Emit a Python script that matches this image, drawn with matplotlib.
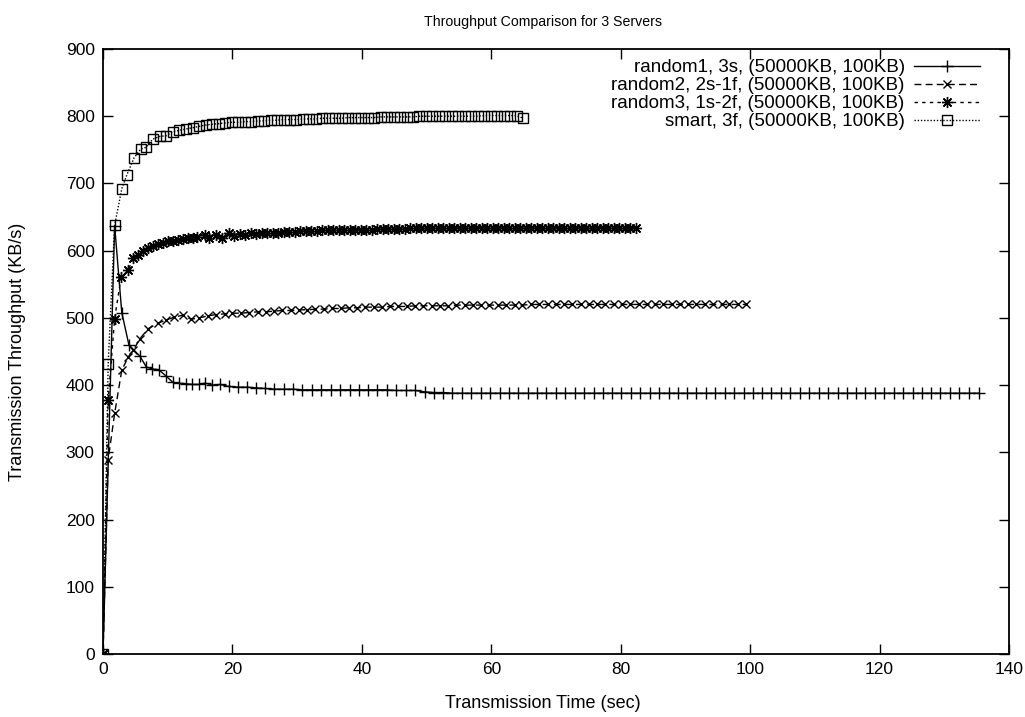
import matplotlib
matplotlib.use('Agg')
import matplotlib.pyplot as plt

plt.rcParams['font.family'] = ['Liberation Sans', 'DejaVu Sans']

# random1, 3s
time_r1 = [0, 1.8, 2.9, 4.0, 5.7, 6.7, 7.6, 8.6, 9.8, 10.8,
           11.8, 12.8, 13.8, 14.8, 15.8, 16.9, 18.1, 19.4, 20.8, 22.2,
           23.6, 25.0, 26.5, 27.9, 29.4, 30.8, 32.3, 33.7, 35.2, 36.6,
           38.1, 39.5, 41.0, 42.4, 43.9, 45.3, 46.8, 48.2, 49.7, 51.1,
           52.6, 54.0, 55.5, 56.9, 58.4, 59.8, 61.3, 62.7, 64.2, 65.6,
           67.1, 68.5, 70.0, 71.4, 72.9, 74.3, 75.8, 77.2, 78.7, 80.1,
           81.6, 83.0, 84.5, 85.9, 87.4, 88.8, 90.3, 91.7, 93.2, 94.6,
           96.1, 97.5, 99.0, 100.4, 101.9, 103.3, 104.8, 106.2, 107.7, 109.1,
           110.6, 112.0, 113.5, 114.9, 116.4, 117.8, 119.3, 120.7, 122.2, 123.6,
           125.1, 126.5, 128.0, 129.4, 130.9, 132.3, 133.8, 135.3]
thru_r1 = [0, 637, 508, 460, 443, 427, 424, 423, 413, 404,
           403, 402, 401, 401, 403, 400, 401, 398, 397, 397,
           396, 395, 394, 394, 394, 393, 393, 393, 393, 393,
           393, 393, 393, 393, 393, 392, 392, 392, 390, 389,
           389, 388, 388, 388, 388, 388, 388, 388, 388, 388,
           388, 388, 388, 388, 388, 388, 388, 388, 388, 388,
           388, 388, 388, 388, 388, 388, 388, 388, 388, 388,
           388, 388, 388, 388, 388, 388, 388, 388, 388, 388,
           388, 388, 388, 388, 388, 388, 388, 388, 388, 388,
           388, 388, 388, 388, 388, 388, 388, 388]

# random2, 2s-1f
time_r2 = [0, 0.8, 1.8, 2.9, 3.9, 4.7, 5.7, 7.0, 8.5, 9.8,
           11.0, 12.3, 13.6, 14.9, 16.2, 17.5, 18.8, 20.0, 21.3, 22.6,
           23.9, 25.2, 26.4, 27.7, 29.0, 30.3, 31.6, 32.8, 34.1, 35.4,
           36.7, 38.0, 39.2, 40.5, 41.8, 43.1, 44.4, 45.6, 46.9, 48.2,
           49.5, 50.8, 52.0, 53.3, 54.6, 55.9, 57.2, 58.4, 59.7, 61.0,
           62.3, 63.6, 64.8, 66.1, 67.4, 68.7, 70.0, 71.2, 72.5, 73.8,
           75.1, 76.4, 77.6, 78.9, 80.2, 81.5, 82.8, 84.0, 85.3, 86.6,
           87.9, 89.2, 90.4, 91.7, 93.0, 94.3, 95.6, 96.8, 98.1, 99.4]
thru_r2 = [0, 289, 358, 422, 442, 452, 469, 484, 492, 497,
           501, 504, 498, 500, 503, 505, 506, 507, 507, 508,
           509, 509, 510, 511, 511, 512, 512, 513, 513, 514,
           514, 515, 515, 516, 516, 516, 517, 517, 517, 518,
           518, 518, 518, 518, 519, 519, 519, 519, 519, 519,
           519, 519, 519, 520, 520, 520, 520, 520, 520, 520,
           520, 520, 520, 520, 520, 520, 520, 520, 520, 520,
           520, 520, 520, 520, 520, 520, 520, 520, 520, 520]

# random3, 1s-2f
time_r3 = [0, 0.8, 1.8, 2.8, 3.9, 4.7, 5.4, 6.2, 7.0, 7.7,
           8.5, 9.3, 10.0, 10.8, 11.6, 12.3, 13.1, 13.9, 14.6, 15.7,
           16.4, 17.4, 18.4, 19.4, 20.3, 21.1, 22.0, 22.8, 23.7, 24.5,
           25.4, 26.2, 27.1, 27.9, 28.8, 29.6, 30.5, 31.3, 32.2, 33.0,
           33.9, 34.7, 35.6, 36.4, 37.3, 38.1, 39.0, 39.8, 40.7, 41.5,
           42.4, 43.2, 44.1, 44.9, 45.8, 46.6, 47.5, 48.3, 49.2, 50.0,
           50.9, 51.7, 52.6, 53.4, 54.3, 55.1, 56.0, 56.8, 57.7, 58.5,
           59.4, 60.2, 61.1, 61.9, 62.8, 63.6, 64.5, 65.3, 66.2, 67.0,
           67.9, 68.7, 69.6, 70.4, 71.3, 72.1, 73.0, 73.8, 74.7, 75.5,
           76.4, 77.2, 78.1, 78.9, 79.8, 80.6, 81.5, 82.3]
thru_r3 = [0, 378, 499, 561, 571, 589, 594, 599, 604, 607,
           610, 612, 614, 615, 616, 618, 619, 619, 621, 624,
           619, 624, 619, 626, 622, 625, 624, 626, 625, 627,
           626, 627, 627, 628, 628, 628, 629, 629, 629, 629,
           630, 630, 630, 630, 631, 631, 631, 631, 631, 631,
           632, 632, 632, 632, 632, 632, 633, 633, 633, 633,
           633, 633, 633, 633, 633, 634, 634, 634, 634, 634,
           634, 634, 634, 634, 634, 634, 634, 634, 634, 634,
           634, 634, 634, 634, 634, 634, 634, 634, 634, 634,
           634, 634, 634, 634, 634, 634, 634, 634]

# smart, 3f
time_sm = [0, 0.8, 1.8, 2.9, 3.7, 4.8, 5.8, 6.7, 7.7, 8.8,
           9.8, 10.8, 11.8, 12.8, 13.9, 14.9, 15.9, 16.9, 17.9, 18.9,
           19.9, 20.9, 21.9, 22.9, 23.9, 24.9, 25.9, 26.9, 27.9, 28.9,
           29.9, 30.9, 31.9, 32.9, 33.9, 34.9, 35.9, 36.9, 37.9, 38.9,
           39.9, 40.9, 41.9, 42.9, 43.9, 44.9, 45.9, 46.9, 47.9, 48.9,
           49.9, 50.9, 51.9, 52.9, 53.9, 54.9, 55.9, 56.9, 57.9, 58.9,
           59.9, 60.9, 61.9, 62.9, 63.9, 64.9]
thru_sm = [0, 432, 638, 692, 713, 738, 751, 754, 766, 770,
           771, 777, 779, 781, 783, 785, 787, 788, 789, 790,
           791, 791, 792, 792, 793, 793, 794, 794, 795, 795,
           795, 796, 796, 796, 797, 797, 797, 797, 798, 798,
           798, 798, 798, 799, 799, 799, 799, 799, 799, 800,
           800, 800, 800, 800, 800, 800, 800, 800, 800, 801,
           801, 801, 801, 801, 801, 797]

labels = ['random1, 3s, (50000KB, 100KB)',
          'random2, 2s-1f, (50000KB, 100KB)',
          'random3, 1s-2f, (50000KB, 100KB)',
          'smart, 3f, (50000KB, 100KB)']

fig = plt.figure(figsize=(10.25, 7.17), dpi=100)
# axes box from x=103..1009 px, y=49..654 px
ax = fig.add_axes([103 / 1025, 1 - 654 / 717, 906 / 1025, 605 / 717])

ax.plot(time_r1, thru_r1, color='black', lw=1, linestyle='-',
        marker='+', markersize=8, markeredgewidth=1, label=labels[0])
ax.plot(time_r2, thru_r2, color='black', lw=1, linestyle=(0, (5, 3)),
        marker='x', markersize=6, markeredgewidth=1, label=labels[1])
ax.plot(time_r3, thru_r3, color='black', lw=1, linestyle=(0, (2.5, 3)),
        marker=(8, 2, 0), markersize=8, markeredgewidth=1, label=labels[2])
ax.plot(time_sm, thru_sm, color='black', lw=1, linestyle=(0, (1, 1.3)),
        marker='s', markersize=6.5, markeredgewidth=1, fillstyle='none', label=labels[3])

ax.set_xlim(0, 140)
ax.set_ylim(0, 900)
ax.set_xticks(range(0, 141, 20))
ax.set_yticks(range(0, 901, 100))
ax.tick_params(direction='in', length=7, width=1, top=True, right=True, labelsize=12.5, pad=6)
for s in ax.spines.values():
    s.set_linewidth(1.3)

ax.set_xlabel('Transmission Time (sec)', fontsize=13)
ax.set_ylabel('Transmission Throughput (KB/s)', fontsize=13)
ax.xaxis.set_label_coords((543 - 103) / 906, -(704 - 654) / 605)
ax.yaxis.set_label_coords(-(103 - 18) / 906, 0.5)
ax.xaxis.label.set_va('center')
ax.yaxis.label.set_va('center')
fig.text(543 / 1025, 1 - 22 / 717, 'Throughput Comparison for 3 Servers',
         ha='center', va='center', fontsize=10.2)

leg = ax.legend(loc='upper right', bbox_to_anchor=(0.98, 1.002), frameon=False,
                markerfirst=False, fontsize=13.5, handlelength=3.5, handletextpad=0.5,
                labelspacing=0.05, borderaxespad=0.2)
for col in leg._legend_handle_box.get_children():
    col.align = 'right'

fig.savefig('out.png', dpi=100)
